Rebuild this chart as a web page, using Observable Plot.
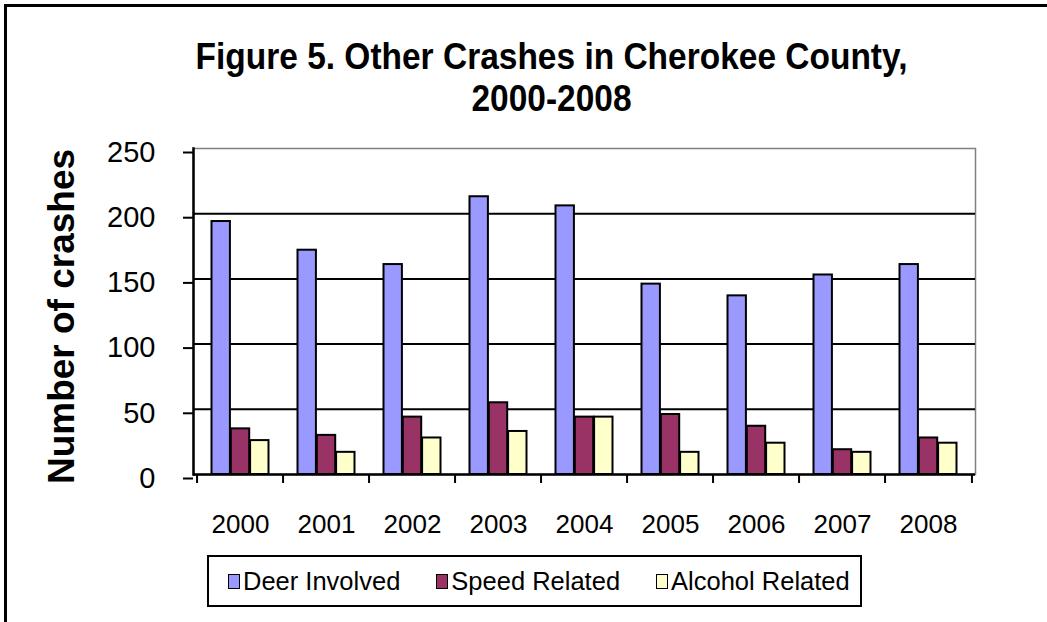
<!DOCTYPE html>
<html>
<head>
<meta charset="utf-8">
<script src="https://cdn.jsdelivr.net/npm/d3@7"></script>
<script src="https://cdn.jsdelivr.net/npm/@observablehq/plot@0.6"></script>
<style>
  html, body { margin: 0; padding: 0; background: #fff; overflow: hidden; }
  body { width: 1047px; height: 622px; position: relative; font-family: "Liberation Sans", Arial, sans-serif; }
  #outer { position: absolute; left: 4px; top: 4px; width: 1100px; height: 700px; border: 3px solid #000; box-sizing: border-box; }
  #title { position: absolute; left: 0; top: 36px; width: 1103px; text-align: center; font-weight: bold; font-size: 36px; line-height: 42px; color: #000; transform: scaleX(0.93); transform-origin: 551.5px 0; }
  #chart { position: absolute; left: 0; top: 0; }
  #legend { position: absolute; left: 207px; top: 555px; width: 655px; height: 52px; border: 2px solid #000; box-sizing: border-box; display: flex; align-items: center; padding-left: 19px; background: #fff; white-space: nowrap; }
  .item { display: flex; align-items: center; flex-shrink: 0; margin-right: 36px; font-size: 25.5px; color: #000; }
  .sw { width: 12px; height: 15px; border: 1.5px solid #000; margin-right: 3px; box-sizing: border-box; flex-shrink: 0; }
</style>
</head>
<body>
<div id="outer"></div>
<div id="chart"></div>
<div id="title">Figure 5. Other Crashes in Cherokee County,<br>2000-2008</div>
<div id="legend"></div>
<script>
const years = ["2000", "2001", "2002", "2003", "2004", "2005", "2006", "2007", "2008"];
const deerInvolved = [194, 172, 161, 213, 206, 146, 137, 153, 161];
const speedRelated = [35, 30, 44, 55, 44, 46, 37, 19, 28];
const alcoholRelated = [26, 17, 28, 33, 44, 17, 24, 17, 24];
const seriesNames = ["Deer Involved", "Speed Related", "Alcohol Related"];
const seriesColors = ["#9999FF", "#993366", "#FFFFCC"];
const yTicks = [0, 50, 100, 150, 200, 250];
const yLabel = "Number of crashes";

const seriesValues = [deerInvolved, speedRelated, alcoholRelated];

const W = 1047, H = 622;
const mL = 193, mR = 72, mT = 148, mB = 148;
const bw = (W - mL - mR) / years.length;
const gap = 14.5;
const barW = (bw - 2 * gap) / 3;

const barMarks = seriesValues.map((vals, i) =>
  Plot.barY(years.map((yr, j) => ({year: yr, value: vals[j], series: seriesNames[i]})), {
    x: "year",
    y: "value",
    fill: seriesColors[i],
    stroke: "#000",
    strokeWidth: 2,
    insetLeft: gap + i * barW,
    insetRight: bw - gap - (i + 1) * barW
  })
);

const chart = Plot.plot({
  width: W,
  height: H,
  marginLeft: mL,
  marginRight: mR,
  marginTop: mT,
  marginBottom: mB,
  style: {fontFamily: "'Liberation Sans', Arial, sans-serif", color: "#000", background: "transparent"},
  x: {type: "band", domain: years, padding: 0},
  y: {domain: [0, 250]},
  marks: [
    Plot.frame({stroke: "#808080", strokeWidth: 1.5}),
    Plot.ruleY(yTicks.filter(v => v > 0 && v < 250), {stroke: "#000", strokeWidth: 2}),
    ...barMarks,
    Plot.ruleY([0], {stroke: "#000", strokeWidth: 2.5}),
    Plot.frame({anchor: "left", stroke: "#000", strokeWidth: 2.5}),
    Plot.axisY({ticks: yTicks, tickSize: 10, tickPadding: 28, fontSize: 29, dy: 4, label: null, strokeWidth: 2}),
    Plot.axisX({tickSize: 9, dx: -bw / 2, tickFormat: () => "", label: null, strokeWidth: 2}),
    Plot.axisX({ticks: [years[years.length - 1]], tickSize: 9, dx: bw / 2, tickFormat: () => "", label: null, strokeWidth: 2}),
    Plot.axisX({tickSize: 0, tickPadding: 40, fontSize: 26, label: null}),
    Plot.text([yLabel], {text: d => d, frameAnchor: "left", textAnchor: "middle", dx: -131, dy: 5, rotate: -90, fontSize: 37, fontWeight: "bold", fill: "#000"})
  ]
});
document.getElementById("chart").appendChild(chart);

const legend = document.getElementById("legend");
seriesNames.forEach((name, i) => {
  const item = document.createElement("div");
  item.className = "item";
  const sw = document.createElement("div");
  sw.className = "sw";
  sw.style.background = seriesColors[i];
  const t = document.createElement("span");
  t.textContent = name;
  item.appendChild(sw);
  item.appendChild(t);
  legend.appendChild(item);
});
</script>
</body>
</html>
